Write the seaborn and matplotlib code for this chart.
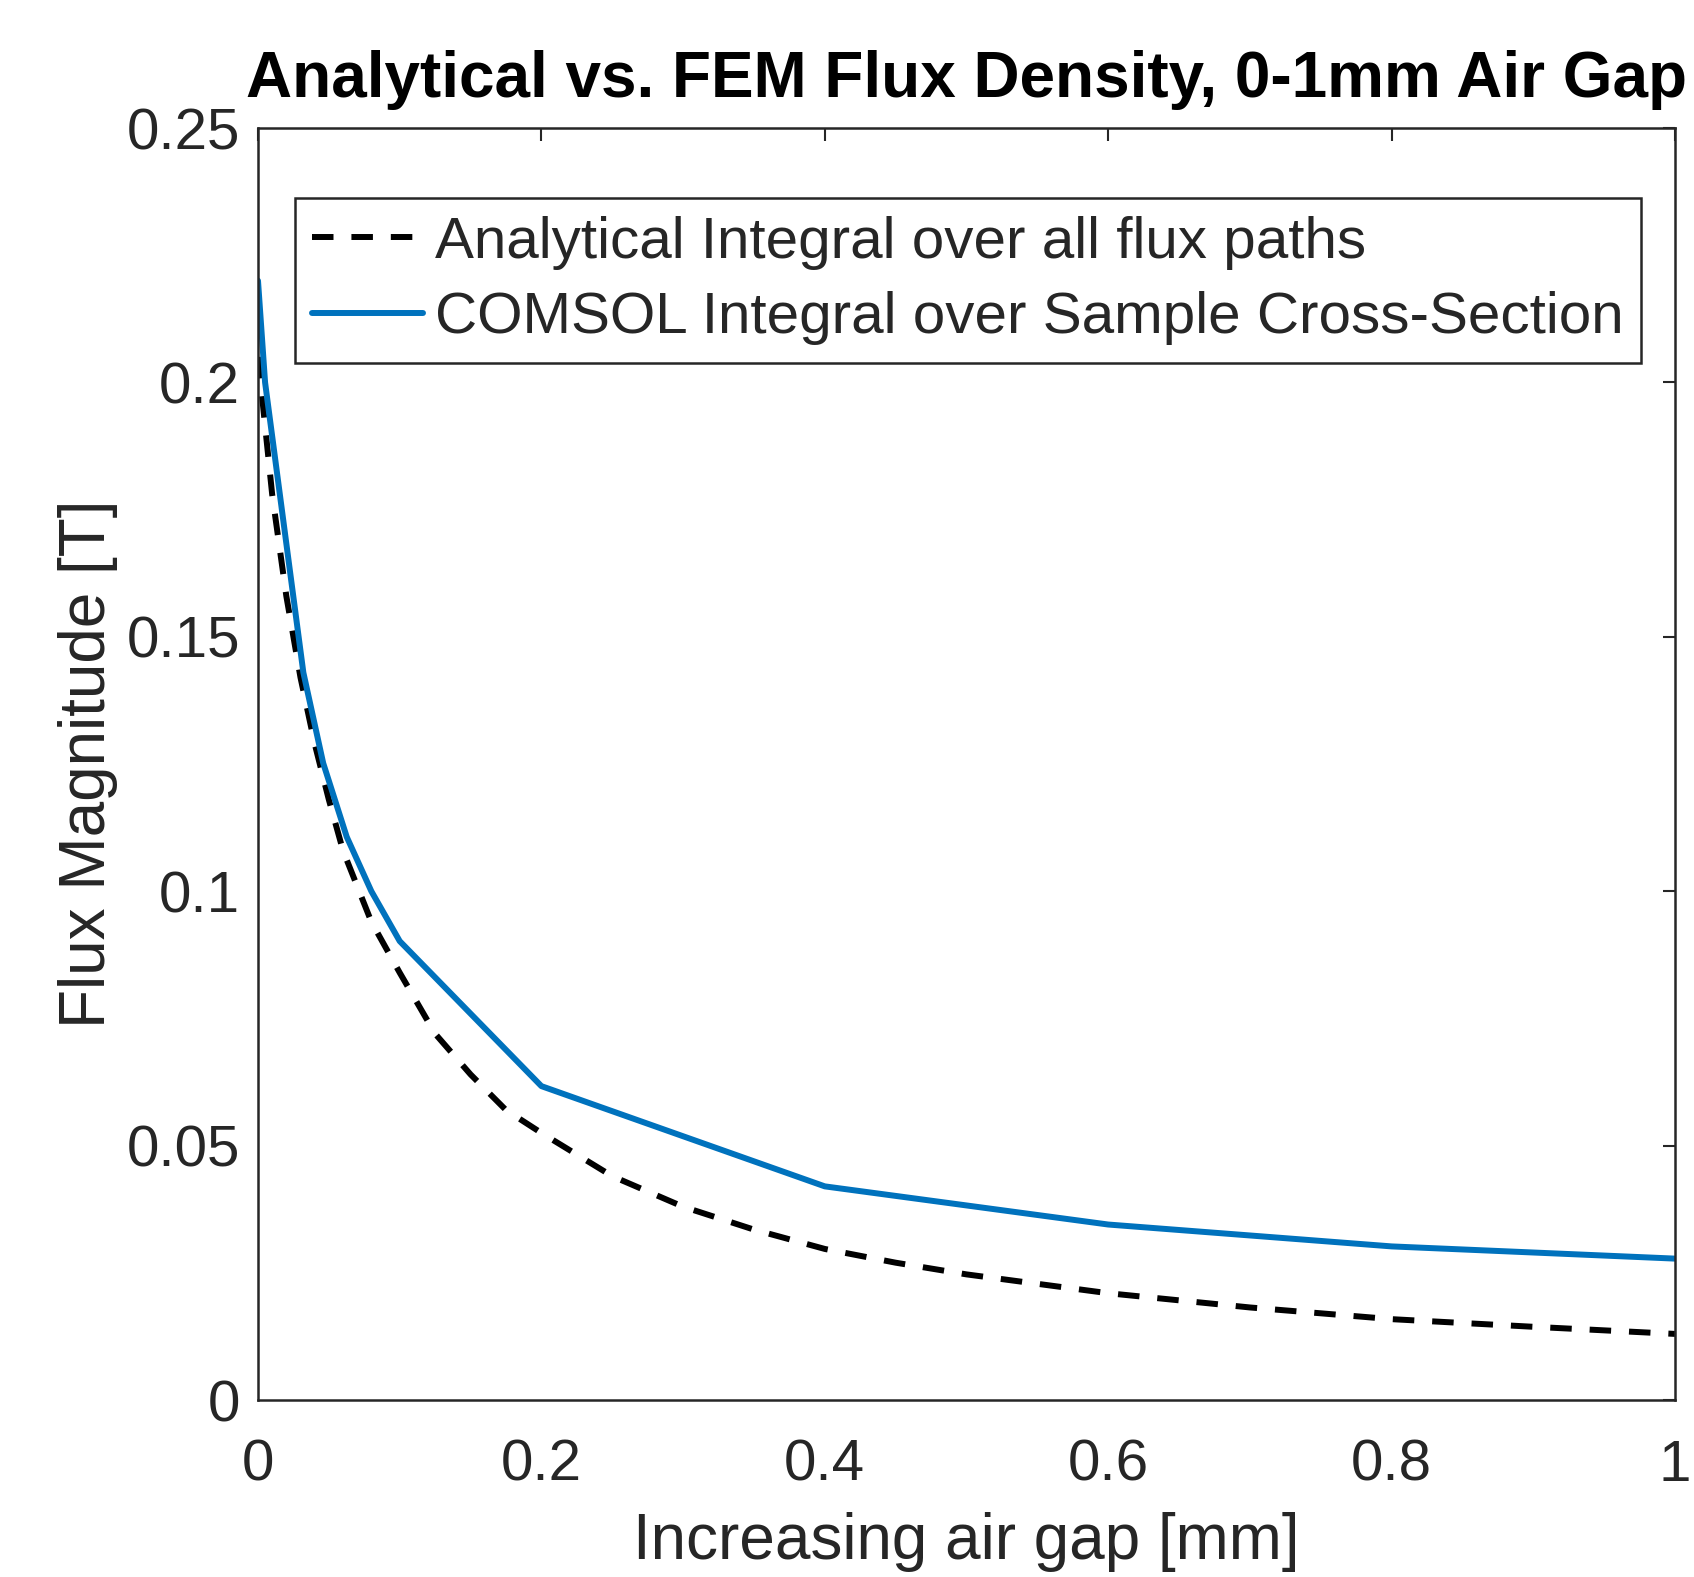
import matplotlib
matplotlib.use("Agg")
import matplotlib.pyplot as plt
import numpy as np
import pandas as pd
import seaborn as sns

# analytical curve
gap_analytic = [0, 0.01, 0.02, 0.03, 0.04, 0.05, 0.06, 0.08, 0.1, 0.125, 0.15, 0.175,
                0.2, 0.25, 0.3, 0.35, 0.4, 0.45, 0.5, 0.6, 0.7, 0.8, 0.9, 1.0]
flux_analytic = [0.205, 0.178, 0.158, 0.142, 0.129, 0.118, 0.108, 0.094, 0.084, 0.072,
                 0.064, 0.057, 0.0525, 0.044, 0.038, 0.0335, 0.0297, 0.0270, 0.0247,
                 0.0210, 0.0182, 0.0159, 0.0144, 0.0130]

# COMSOL points
gap_fem = [0, 0.005, 0.032, 0.046, 0.0626, 0.08, 0.1, 0.2, 0.4, 0.6, 0.8, 1.0]
flux_fem = [0.220, 0.200, 0.143, 0.1252, 0.1107, 0.100, 0.0902, 0.0617, 0.0420,
            0.0345, 0.0302, 0.0278]

xticks = [0, 0.2, 0.4, 0.6, 0.8, 1.0]
xticklabels = ["0", "0.2", "0.4", "0.6", "0.8", "1"]
yticks = [0, 0.05, 0.1, 0.15, 0.2, 0.25]
yticklabels = ["0", "0.05", "0.1", "0.15", "0.2", "0.25"]

sns.set_style("white")
plt.rcParams['font.family'] = ['Liberation Sans', 'DejaVu Sans']

fig = plt.figure(figsize=(16.94, 15.77), dpi=100)
ax = fig.add_axes([0.1523, 0.1122, 0.8365, 0.8066])

dark = "#262626"
sns.lineplot(x=gap_analytic, y=flux_analytic, ax=ax, color="black", linewidth=4.3,
             linestyle=(0, (3.6, 3.0)), label="Analytical Integral over all flux paths")
sns.lineplot(x=gap_fem, y=flux_fem, ax=ax, color="#0072BD", linewidth=4.3,
             label="COMSOL Integral over Sample Cross-Section")

ax.set_xlim(0, 1)
ax.set_ylim(0, 0.25)
ax.set_xticks(xticks)
ax.set_xticklabels(xticklabels)
ax.set_yticks(yticks)
ax.set_yticklabels(yticklabels)
ax.tick_params(direction="in", length=9, width=1.5, top=True, right=True,
               labelsize=42, colors=dark)
ax.tick_params(axis="x", pad=28)
ax.tick_params(axis="y", pad=13)
for s in ax.spines.values():
    s.set_color(dark)
    s.set_linewidth(1.8)

ax.set_xlabel("Increasing air gap [mm]", fontsize=46, color=dark, labelpad=14)
ax.set_ylabel("Flux Magnitude [T]", fontsize=46, color=dark, labelpad=6)
ax.set_title("Analytical vs. FEM Flux Density, 0-1mm Air Gap", fontsize=46,
             fontweight="bold", color="black", pad=22)

leg = ax.legend(loc="upper left", bbox_to_anchor=(0.026, 0.945), fontsize=42,
                frameon=True, fancybox=False, framealpha=1, edgecolor=dark,
                handlelength=1.9, handletextpad=0.2, borderpad=0.3,
                labelspacing=0.37, borderaxespad=0)
leg.get_frame().set_linewidth(1.8)

plt.savefig("out.png", dpi=100)
